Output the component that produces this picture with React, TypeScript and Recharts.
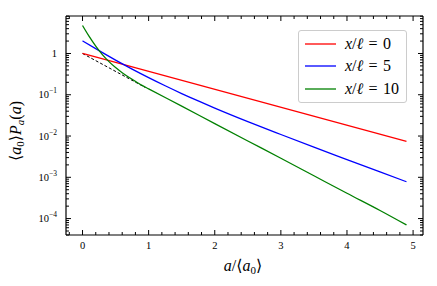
import { LineChart, Line, XAxis, YAxis, Legend, ReferenceLine, Label } from 'recharts';

// values (a / <a0>, <a0> P_a(a))
const redA = [0, 4.9];
const redP = [1, 0.0074];

const blueA = [0, 0.25, 0.5, 0.75, 1, 1.25, 1.5, 1.75, 2, 2.5, 3, 3.5, 4, 4.5, 4.9];
const blueP = [2.02, 1.17, 0.69, 0.418, 0.26, 0.165, 0.107, 0.0709, 0.0477, 0.0224, 0.0109, 0.00537, 0.00269, 0.00135, 0.00078];

const greenA = [0, 0.1, 0.2, 0.3, 0.4, 0.5, 0.6, 0.7, 0.8, 0.9, 1, 1.5, 2, 2.5, 3, 3.5, 4, 4.5, 4.9];
const greenP = [4.76, 2.59, 1.51, 0.94, 0.636, 0.456, 0.343, 0.266, 0.211, 0.169, 0.139, 0.053, 0.02, 0.0076, 0.0029, 0.00109, 0.00041, 0.000157, 0.00007];

const dashA = [0, 0.95];
const dashP = [1, 0.15];

const seriesNames = ['0', '5', '10'];
const seriesColors = ['#ff0000', '#0000ff', '#008000'];

const xMajor = [0, 1, 2, 3, 4, 5];
const xTicks = [-0.2, 0, 0.2, 0.4, 0.6, 0.8, 1, 1.2, 1.4, 1.6, 1.8, 2, 2.2, 2.4, 2.6, 2.8, 3, 3.2, 3.4, 3.6, 3.8, 4, 4.2, 4.4, 4.6, 4.8, 5];
const yMajor = [1e-4, 1e-3, 1e-2, 1e-1, 1];
const yMajorLabels = ['-4', '-3', '-2', '-1', ''];

const X_DOMAIN: [number, number] = [-0.25, 5.15];
const Y_DOMAIN: [number, number] = [4e-5, 8.1];

const yTicks: number[] = [];
for (let d = -5; d <= 0; d++) {
  for (let k = 1; k <= 9; k++) {
    const v = k * Math.pow(10, d);
    if (v >= Y_DOMAIN[0] && v <= Y_DOMAIN[1]) yTicks.push(v);
  }
}

const toRows = (xs: number[], ys: number[]) => xs.map((a, i) => ({ a, p: ys[i] }));
const redData = toRows(redA, redP);
const blueData = toRows(blueA, blueP);
const greenData = toRows(greenA, greenP);
const dashData = toRows(dashA, dashP);

const W = 437;
const H = 286;
const PL = 66;
const PR = 423;
const PT = 16;
const PB = 235;
const FONT = '"Liberation Serif", "DejaVu Serif", serif';

const isMajorX = (v: number) => xMajor.some((m) => Math.abs(m - v) < 1e-9);
const majorYIndex = (v: number) => yMajor.findIndex((m) => Math.abs(m - v) / m < 1e-6);

function XTick(props: any) {
  const cx = props.payload.coordinate;
  const major = isMajorX(props.payload.value);
  const len = major ? 5 : 3;
  return (
    <g>
      <line x1={cx} x2={cx} y1={PB} y2={PB - len} stroke="#000" strokeWidth={1} />
      <line x1={cx} x2={cx} y1={PT} y2={PT + len} stroke="#000" strokeWidth={1} />
      {major && (
        <text x={cx} y={249} textAnchor="middle" fontSize={10.5} fontFamily={FONT} fill="#000">
          {props.payload.value}
        </text>
      )}
    </g>
  );
}

function YTick(props: any) {
  const cy = props.payload.coordinate;
  const idx = majorYIndex(props.payload.value);
  const major = idx >= 0;
  const len = major ? 5 : 3;
  return (
    <g>
      <line x1={PL} x2={PL + len} y1={cy} y2={cy} stroke="#000" strokeWidth={1} />
      <line x1={PR} x2={PR - len} y1={cy} y2={cy} stroke="#000" strokeWidth={1} />
      {major && (
        <text x={57} y={cy + 3.5} textAnchor="end" fontSize={10.5} fontFamily={FONT} fill="#000">
          {yMajorLabels[idx] === '' ? (
            '1'
          ) : (
            <>
              <tspan>10</tspan>
              <tspan dy={-5} fontSize={7.5}>
                {'\u2212' + yMajorLabels[idx].slice(1)}
              </tspan>
            </>
          )}
        </text>
      )}
    </g>
  );
}

function LegendBox() {
  return (
    <div
      style={{
        width: 109,
        height: 73,
        boxSizing: 'border-box',
        border: '1px solid #cccccc',
        borderRadius: 3,
        background: 'rgba(255,255,255,0.8)',
        position: 'relative',
        fontFamily: FONT,
      }}
    >
      {seriesNames.map((name, i) => (
        <div key={name} style={{ position: 'absolute', left: 0, top: 2.5 + i * 22.7, height: 20, width: 109 }}>
          <svg width={40} height={20} style={{ position: 'absolute', left: 0, top: 0 }}>
            <line x1={6} x2={37} y1={10} y2={10} stroke={seriesColors[i]} strokeWidth={1.3} />
          </svg>
          <span
            style={{
              position: 'absolute',
              left: 46,
              top: 0,
              lineHeight: '20px',
              fontSize: 16,
              whiteSpace: 'nowrap',
              color: '#000',
            }}
          >
            <i>x</i>/<i>ℓ</i>
            {'\u2004=\u2004'}
            {name}
          </span>
        </div>
      ))}
    </div>
  );
}

export default function App() {
  return (
    <div style={{ position: 'absolute', left: 0, top: 0, width: W, height: H, background: '#fff' }}>
      <LineChart width={W} height={H} margin={{ top: PT, right: W - PR, bottom: 0, left: 0 }}>
        <XAxis
          dataKey="a"
          type="number"
          domain={X_DOMAIN}
          allowDataOverflow
          ticks={xTicks}
          interval={0}
          height={H - PB}
          tickLine={false}
          tick={(p: any) => <XTick {...p} />}
          axisLine={{ stroke: '#000', strokeWidth: 1.2 }}
        >
          <Label
            content={() => (
              <text x={243} y={271} textAnchor="middle" fontSize={16} fontFamily={FONT} fill="#000">
                <tspan fontStyle="italic">a</tspan>
                <tspan>/⟨</tspan>
                <tspan fontStyle="italic">a</tspan>
                <tspan dy={3} fontSize={11}>0</tspan>
                <tspan dy={-3}>⟩</tspan>
              </text>
            )}
          />
        </XAxis>
        <YAxis
          dataKey="p"
          type="number"
          scale="log"
          domain={Y_DOMAIN}
          allowDataOverflow
          ticks={yTicks}
          interval={0}
          width={PL}
          tickLine={false}
          tick={(p: any) => <YTick {...p} />}
          axisLine={{ stroke: '#000', strokeWidth: 1.2 }}
        >
          <Label
            content={() => (
              <text
                x={21}
                y={131}
                transform="rotate(-90, 21, 131)"
                textAnchor="middle"
                fontSize={16}
                fontFamily={FONT}
                fill="#000"
              >
                <tspan>⟨</tspan>
                <tspan fontStyle="italic">a</tspan>
                <tspan dy={3} fontSize={11}>0</tspan>
                <tspan dy={-3}>⟩</tspan>
                <tspan fontStyle="italic">P</tspan>
                <tspan dy={3} fontSize={11} fontStyle="italic">a</tspan>
                <tspan dy={-3}>(</tspan>
                <tspan fontStyle="italic">a</tspan>
                <tspan>)</tspan>
              </text>
            )}
          />
        </YAxis>
        <ReferenceLine y={Y_DOMAIN[1]} stroke="#000" strokeWidth={1.2} ifOverflow="visible" />
        <ReferenceLine x={X_DOMAIN[1]} stroke="#000" strokeWidth={1.2} ifOverflow="visible" />
        <Line
          data={dashData}
          dataKey="p"
          stroke="#000"
          strokeWidth={1}
          strokeDasharray="3 2"
          dot={false}
          legendType="none"
          isAnimationActive={false}
        />
        <Line data={redData} dataKey="p" name={seriesNames[0]} stroke={seriesColors[0]} strokeWidth={1.3} dot={false} isAnimationActive={false} />
        <Line type="monotone" data={blueData} dataKey="p" name={seriesNames[1]} stroke={seriesColors[1]} strokeWidth={1.3} dot={false} isAnimationActive={false} />
        <Line type="monotone" data={greenData} dataKey="p" name={seriesNames[2]} stroke={seriesColors[2]} strokeWidth={1.3} dot={false} isAnimationActive={false} />
        <Legend
          layout="horizontal"
          verticalAlign="middle"
          align="center"
          content={() => <LegendBox />}
          wrapperStyle={{ position: 'absolute', left: 298, top: 30, width: 109, height: 73 }}
        />
      </LineChart>
    </div>
  );
}
